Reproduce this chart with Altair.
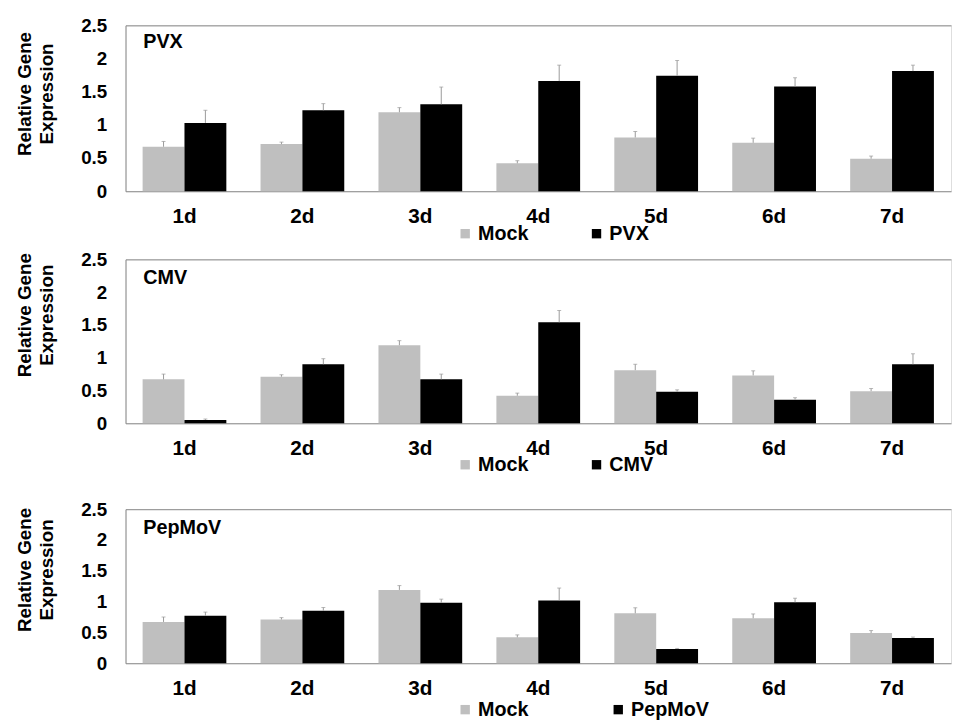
import altair as alt
import pandas as pd

FONT = "Liberation Sans"

days = ["1d", "2d", "3d", "4d", "5d", "6d", "7d"]

mock = [0.67, 0.71, 1.19, 0.42, 0.81, 0.73, 0.49]
mock_err = [0.08, 0.03, 0.07, 0.04, 0.09, 0.07, 0.04]

pvx = [1.03, 1.22, 1.31, 1.66, 1.74, 1.58, 1.81]
pvx_err = [0.19, 0.10, 0.26, 0.24, 0.23, 0.13, 0.09]

cmv = [0.05, 0.90, 0.67, 1.54, 0.48, 0.36, 0.90]
cmv_err = [0.015, 0.085, 0.08, 0.18, 0.03, 0.03, 0.16]

pep = [0.77, 0.85, 0.98, 1.02, 0.23, 0.99, 0.41]
pep_err = [0.06, 0.055, 0.06, 0.20, 0.01, 0.065, 0.015]

y_ticks = [0, 0.5, 1, 1.5, 2, 2.5]
y_title = ["Relative Gene", "Expression"]

GRAY = "#BFBFBF"
LINE = "#8c8c8c"
ERR = "#999999"


def panel(virus, vals, errs, height, title_y, label_y, legend_y, col_pad):
    rows = []
    for d, m, me, v, ve in zip(days, mock, mock_err, vals, errs):
        rows.append({"day": d, "group": "Mock", "value": m, "hi": m + me})
        rows.append({"day": d, "group": virus, "value": v, "hi": v + ve})
    df = pd.DataFrame(rows)
    groups = ["Mock", virus]

    xaxis = alt.Axis(
        title=None, labelAngle=0, labelFontSize=21, labelFontWeight="bold",
        labelColor="black", labelPadding=15, ticks=False, tickSize=0,
        domainColor=LINE, grid=False, labelFont=FONT,
    )
    xscale = alt.Scale(paddingInner=0.29, paddingOuter=0.145)
    x = alt.X("day:N", sort=days, scale=xscale, axis=xaxis)
    xo = alt.XOffset("group:N", sort=groups, scale=alt.Scale(paddingInner=0, paddingOuter=0))
    yscale = alt.Scale(domain=[0, 2.5], nice=False, zero=True)
    yaxis = alt.Axis(
        title=y_title, values=y_ticks, format="~g", tickCount=6,
        labelFontSize=19, labelFontWeight="bold", labelColor="black",
        labelPadding=19, ticks=False, tickSize=0, domainColor=LINE,
        labelOverlap=False, labelBound=False, labelFlush=False,
        grid=True, gridColor=LINE,
        gridOpacity={"condition": {"test": "datum.value == 2.5", "value": 1}, "value": 0},
        titleFontSize=19, titleFontWeight="bold", titleColor="black",
        titleAngle=270, titleX=-111, titleY=title_y, titleAlign="center",
        titleBaseline="top", titleLineHeight=22, labelFont=FONT, titleFont=FONT,
    )

    base = alt.Chart(df)
    bars = base.mark_bar().encode(
        x=x,
        xOffset=xo,
        y=alt.Y("value:Q", scale=yscale, axis=yaxis),
        color=alt.Color(
            "group:N",
            sort=groups,
            scale=alt.Scale(domain=groups, range=[GRAY, "#000000"]),
            legend=alt.Legend(
                title=None, orient="none", legendX=334, legendY=legend_y,
                direction="horizontal", symbolType="square", symbolSize=90,
                symbolStrokeWidth=0, labelFontSize=20, labelFontWeight="bold",
                labelColor="black", labelOffset=3, columnPadding=col_pad,
                labelFont=FONT,
            ),
        ),
    )
    err = base.mark_rule(color=ERR, strokeWidth=1).encode(
        x=x, xOffset=xo,
        y=alt.Y("value:Q", scale=yscale, axis=yaxis), y2="hi:Q",
    )
    cap = base.mark_tick(color=ERR, thickness=1, size=4).encode(
        x=x, xOffset=xo,
        y=alt.Y("hi:Q", scale=yscale, axis=yaxis),
    )
    label = alt.Chart(pd.DataFrame({"t": [virus]})).mark_text(
        font=FONT, fontSize=20, fontWeight="bold", align="left",
        baseline="middle", color="black",
    ).encode(text="t:N", x=alt.value(18), y=alt.value(label_y))

    return alt.layer(bars, err, cap, label).properties(width=836, height=height)


p1 = panel("PVX", pvx, pvx_err, 168, 69, 17, 201, 58)
p2 = panel("CMV", cmv, cmv_err, 166, 56, 19, 198, 58)
p3 = panel("PepMoV", pep, pep_err, 156, 61, 19, 193, 80)

inner = alt.vconcat(p1, p2, spacing=5).resolve_scale(color="independent", xOffset="independent")
chart = (
    alt.vconcat(inner, p3, spacing=24)
    .resolve_scale(color="independent", xOffset="independent")
    .properties(padding={"left": 7, "top": 3, "right": 0, "bottom": 0})
    .configure_view(stroke=None)
    .configure(background="white")
)

chart.save("out.html", embed_options={"renderer": "svg", "actions": False})
